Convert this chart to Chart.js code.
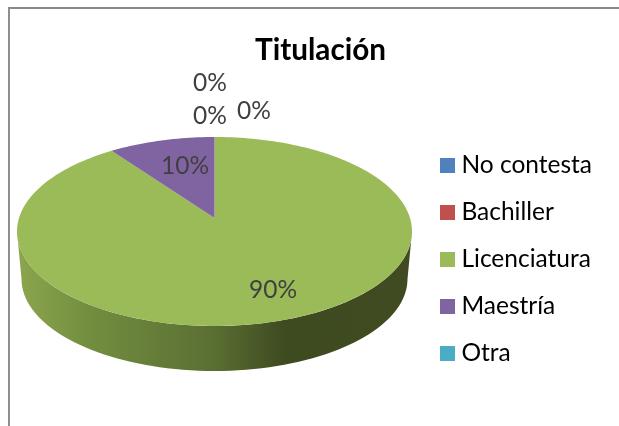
<!DOCTYPE html>
<html>
<head>
<meta charset="utf-8">
<title>Titulación</title>
<script src="https://cdn.jsdelivr.net/npm/chart.js@4/dist/chart.umd.min.js"></script>
<style>
  html, body { margin: 0; padding: 0; background: #fff; }
  #wrap { position: relative; width: 619px; height: 426px; overflow: hidden; }
  #frame { position: absolute; left: 8px; top: 7px; width: 700px; height: 500px;
           border-left: 2px solid #8e8e8e; border-top: 2px solid #8a8a8a; }
  canvas { position: absolute; left: 0; top: 0; }
</style>
</head>
<body>
<div id="wrap">
  <div id="frame"></div>
  <canvas id="chart" width="619" height="426"></canvas>
</div>
<script>
const categories = ['No contesta', 'Bachiller', 'Licenciatura', 'Maestría', 'Otra'];
const values = [0, 0, 90, 10, 0];
const colors = ['#4F81BD', '#C0504D', '#9BBB59', '#8064A2', '#4BACC6'];

const labelSpots = [[210, 116], [210, 83], [273, 290], [185, 166], [254, 111]];

// top face and bottom rim of the tilted pie, in page pixels
const topFace = { cx: 214.5, cy: 231.5, rx: 197.5, ry: 94.5 };
const bottomRim = { cx: 214.5, cy: 279, rx: 193, ry: 92 };
const apexLift = 0.143; // how far the pie centre sits above the ellipse centre

const total = values.reduce((a, b) => a + b, 0);

// maps an angle on the pie onto the ellipse, with a bit of perspective
function project(face, angle, r) {
    const u = Math.cos(angle) * r;
    const v = Math.sin(angle) * r;
    const w = 1 - apexLift * v;
    const s = Math.sqrt(1 - apexLift * apexLift);
    return [face.cx + face.rx * s * u / w, face.cy + face.ry * (v - apexLift) / w];
}

function drawWall(ctx) {
    const pts = [];
    const from = Math.asin(apexLift);
    const to = Math.PI - from;
    for (let i = 0; i <= 80; i++) pts.push(project(topFace, to + (from - to) * i / 80, 1));
    for (let i = 0; i <= 80; i++) pts.push(project(bottomRim, from + (to - from) * i / 80, 1));
    const grad = ctx.createLinearGradient(17, 0, 412, 0);
    grad.addColorStop(0, '#8CA64E');
    grad.addColorStop(0.17, '#748F40');
    grad.addColorStop(0.5, '#5A6E32');
    grad.addColorStop(0.68, '#3E4A20');
    grad.addColorStop(1, '#404B22');
    ctx.beginPath();
    pts.forEach((p, i) => i ? ctx.lineTo(p[0], p[1]) : ctx.moveTo(p[0], p[1]));
    ctx.closePath();
    ctx.fillStyle = grad;
    ctx.fill();
}

const tiltedPie = {
    id: 'tiltedPie',
    beforeDatasetDraw(chart) {
        const ctx = chart.ctx;
        const arcs = chart.getDatasetMeta(0).data;
        ctx.save();
        drawWall(ctx);
        arcs.forEach((arc, i) => {
            if (arc.circumference <= 0) return;
            const a = arc.startAngle;
            const b = arc.endAngle;
            const steps = Math.ceil((b - a) * 40);
            const apex = project(topFace, 0, 0);
            ctx.beginPath();
            ctx.moveTo(apex[0], apex[1]);
            for (let k = 0; k <= steps; k++) {
                const p = project(topFace, a + (b - a) * k / steps, 1);
                ctx.lineTo(p[0], p[1]);
            }
            ctx.closePath();
            ctx.fillStyle = colors[i];
            ctx.fill();
        });
        ctx.restore();
        return false;
    },
    afterDatasetsDraw(chart) {
        const ctx = chart.ctx;
        ctx.save();
        ctx.font = '24.5px Lato';
        ctx.fillStyle = '#404040';
        ctx.textAlign = 'center';
        ctx.textBaseline = 'middle';
        values.forEach((v, i) => {
            ctx.fillText(Math.round(v / total * 100) + '%', labelSpots[i][0], labelSpots[i][1]);
        });
        ctx.restore();
    }
};

function swatch(color) {
    const c = document.createElement('canvas');
    c.width = 15;
    c.height = 15;
    const g = c.getContext('2d');
    g.fillStyle = color;
    g.fillRect(0, 0, 15, 15);
    return c;
}

new Chart(document.getElementById('chart'), {
    type: 'pie',
    data: {
        labels: categories,
        datasets: [{ data: values, backgroundColor: colors, borderWidth: 0 }]
    },
    plugins: [tiltedPie],
    options: {
        responsive: false,
        animation: false,
        // negative bottom pushes the legend down to where the original has it
        layout: { padding: { left: 39, top: 33, right: 17, bottom: -60 } },
        plugins: {
            title: {
                display: true,
                text: 'Titulación',
                color: '#000',
                font: { family: 'Lato', size: 29.7, weight: 'bold' },
                padding: 0
            },
            tooltip: { enabled: false },
            legend: {
                position: 'right',
                labels: {
                    font: { family: 'Lato', size: 24.5 },
                    color: '#404040',
                    padding: 22.5,
                    usePointStyle: true,
                    pointStyleWidth: 3,
                    boxHeight: 15,
                    generateLabels: () => categories.map((name, i) => ({
                        text: name,
                        pointStyle: swatch(colors[i]),
                        fillStyle: colors[i],
                        lineWidth: 0,
                        index: i
                    }))
                }
            }
        }
    }
});
</script>
</body>
</html>
